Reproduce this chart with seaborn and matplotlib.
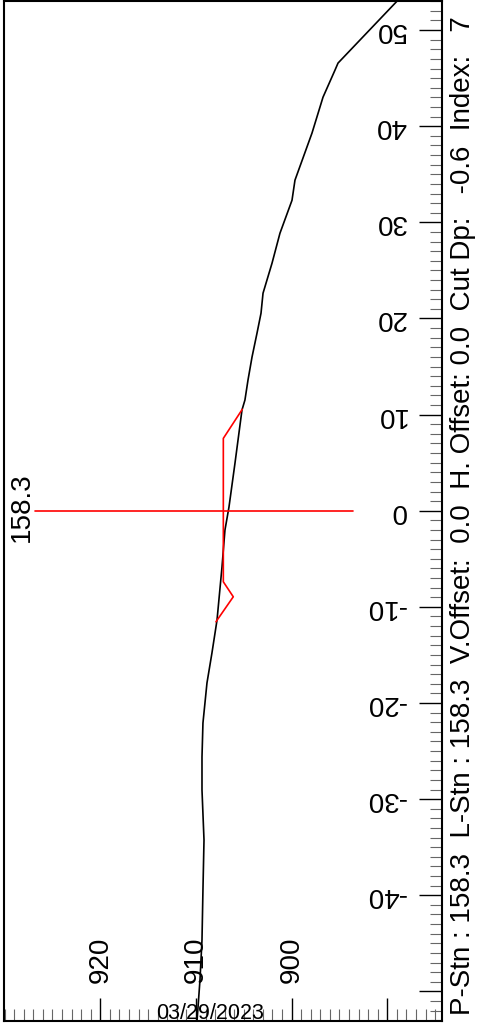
import matplotlib
matplotlib.use("Agg")
import matplotlib.pyplot as plt
import matplotlib.transforms as mtransforms
from matplotlib.ticker import MultipleLocator, FixedLocator
import seaborn as sns

# ---- data ----
ground_elev = [887.94, 888.88, 895.15, 895.47, 896.72, 897.87, 899.65, 899.96, 901.22, 902.05,
               902.99, 903.20, 903.62, 904.14, 904.56, 904.88, 905.19, 905.92, 906.55, 906.97,
               907.28, 907.80, 908.33, 908.85, 909.27, 909.37, 909.37, 909.16, 909.27, 909.37,
               909.58, 909.89, 910.00]
ground_offset = [54.2, 53.12, 46.57, 45.83, 43.02, 39.29, 34.39, 32.30, 28.87, 25.75,
                 22.63, 20.55, 18.47, 15.99, 13.60, 11.52, 10.48, 4.96, 0.38, -2.01,
                 -5.86, -11.38, -14.80, -17.92, -22.08, -25.62, -29.05, -34.25, -39.45, -44.65,
                 -48.81, -53.08, -54.0]

template_elev = [905.16, 907.14, 907.14, 906.10, 907.91]
template_offset = [10.55, 7.53, -7.39, -8.95, -11.55]

centerline_elev = [926.83, 893.59]
centerline_offset = [0.0, 0.0]

elev_ticks = [920, 910, 900, 890]
elev_labels = [920, 910, 900]
offset_ticks = [-50, -40, -30, -20, -10, 0, 10, 20, 30, 40, 50]
offset_labels = [50, 40, 30, 20, 10, 0, -10, -20, -30, -40]

station_label = "158.3"
date_label = "03/29/2023"
info_text = "P-Stn : 158.3  L-Stn : 158.3  V.Offset:  0.0  H. Offset: 0.0  Cut Dp:   -0.6  Index:   7"

# ---- style ----
sns.set_theme(style="white")
plt.rcParams["font.family"] = ["Liberation Sans", "DejaVu Sans"]

fig = plt.figure(figsize=(4.8, 10.24), dpi=100)
ax = fig.add_axes([3.5 / 480, 3 / 1024, (442 - 3.5) / 480, 1020.5 / 1024])

sns.lineplot(x=ground_elev, y=ground_offset, sort=False, estimator=None,
             color="black", lw=1.2, ax=ax)
sns.lineplot(x=template_elev, y=template_offset, sort=False, estimator=None,
             color="#ff0000", lw=1.2, ax=ax)
sns.lineplot(x=centerline_elev, y=centerline_offset, sort=False, estimator=None,
             color="#ff0000", lw=1.2, ax=ax)

ax.set_xlim(930.12, 884.28)
ax.set_ylim(-53.08, 53.08)

ax.xaxis.set_major_locator(FixedLocator(elev_ticks))
ax.xaxis.set_minor_locator(MultipleLocator(1))
ax.yaxis.tick_right()
ax.yaxis.set_major_locator(FixedLocator(offset_ticks))
ax.yaxis.set_minor_locator(MultipleLocator(1))

ax.tick_params(axis="x", which="both", bottom=True, top=False, direction="in",
               labelbottom=False)
ax.tick_params(axis="y", which="both", left=False, right=True, direction="in",
               labelright=False, labelleft=False)
ax.tick_params(which="major", length=16.5, width=1.0, color="black")
ax.tick_params(which="minor", length=8.5, width=0.8, color="#666666")

for s in ax.spines.values():
    s.set_visible(True)
    s.set_color("black")
    s.set_linewidth(1.5)

ax.set_xlabel("")
ax.set_ylabel("")

tr_x = mtransforms.blended_transform_factory(ax.transData, ax.transAxes)
tr_y = mtransforms.blended_transform_factory(ax.transAxes, ax.transData)

for e in elev_labels:
    ax.text(e, 0.037, str(e), transform=tr_x, rotation=90, ha="center",
            va="bottom", fontsize=20, color="black")

for o in offset_labels:
    ax.text(0.918, o, str(o), transform=tr_y, rotation=180, ha="right",
            va="center", fontsize=20, color="black")

ax.text(centerline_elev[0], 0.4, station_label, rotation=90, ha="right",
        va="center", fontsize=20, color="black")

ax.text(0.471, 0.002, date_label, transform=ax.transAxes, ha="center",
        va="baseline", fontsize=15.5, color="black")

fig.text(463 / 480, 1 - 1015 / 1024, info_text, rotation=90, ha="center",
         va="bottom", fontsize=20, color="black")

fig.savefig("out.png", dpi=100)
